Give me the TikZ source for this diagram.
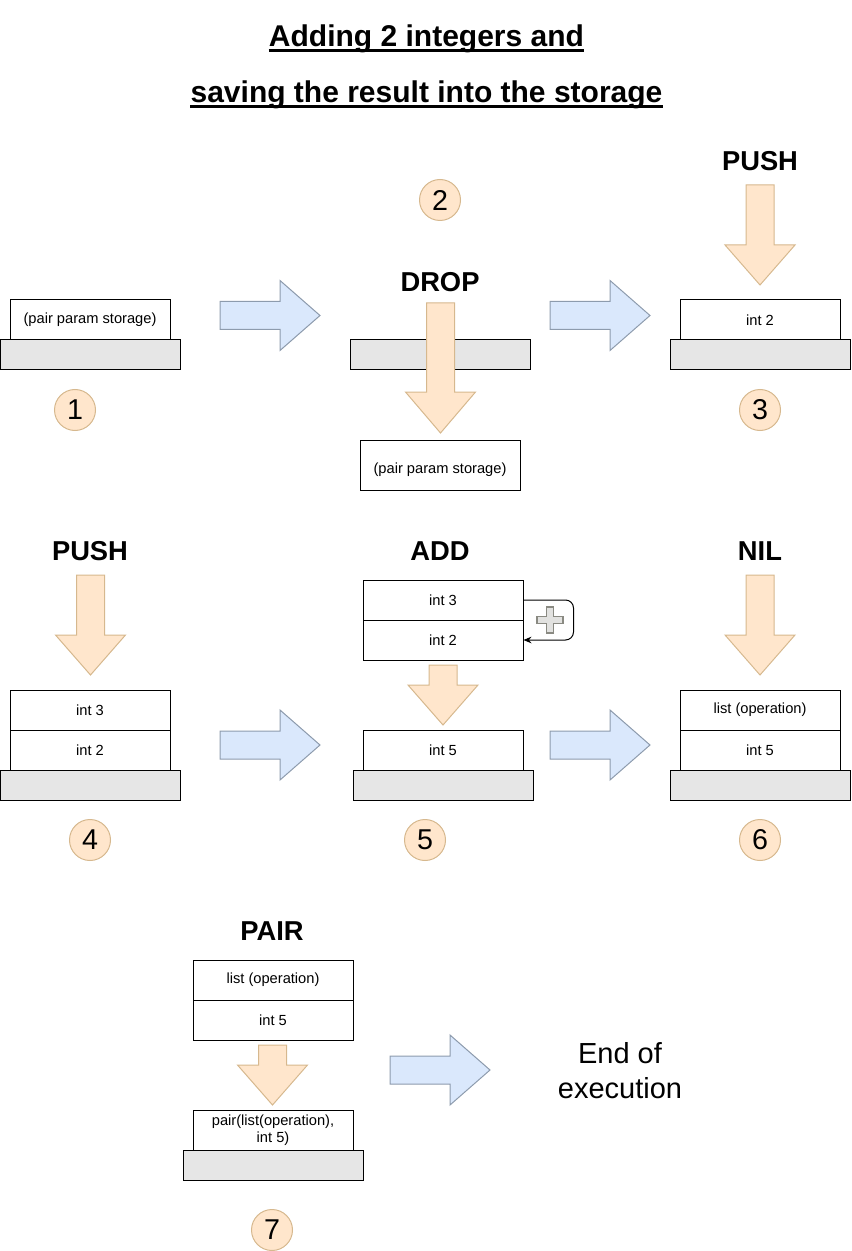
\documentclass[tikz,border=0pt]{standalone}
\usepackage{fontspec}
\setmainfont{Liberation Sans}
\usetikzlibrary{arrows.meta}
\definecolor{ofill}{HTML}{FFE6CC}
\definecolor{oline}{HTML}{D6B88E}
\definecolor{bfill}{HTML}{DAE8FC}
\definecolor{bline}{HTML}{8D9BAD}
\definecolor{basefill}{HTML}{E6E6E6}
\definecolor{plusfill}{HTML}{E2E2E0}
\definecolor{plusline}{HTML}{8A8A82}
\tikzset{
 cell/.style={draw=black, fill=white, line width=0.75pt, minimum width=120pt, minimum height=30pt, inner sep=0pt, font=\fontsize{11pt}{13pt}\selectfont, align=center},
 dropbox/.style={cell, minimum height=37.5pt},
 celltext/.style={inner sep=0pt, font=\fontsize{11pt}{13pt}\selectfont},
 basebar/.style={draw=black, fill=basefill, line width=0.75pt, minimum width=135pt, minimum height=22.5pt, inner sep=0pt},
 opname/.style={font=\fontsize{20.5pt}{24pt}\selectfont\bfseries, inner sep=0pt},
 stepnum/.style={circle, draw=oline, fill=ofill, line width=0.75pt, minimum size=30.75pt, inner sep=0pt, font=\fontsize{21.5pt}{24pt}\selectfont},
 rarrow/.style={draw=bline, fill=bfill, line width=0.75pt},
 darrow/.style={draw=oline, fill=ofill, line width=0.75pt},
 titletext/.style={anchor=base, inner sep=0pt, font=\fontsize{22.5pt}{27pt}\selectfont\bfseries},
 uline/.style={line width=2.25pt},
}
\newcommand\bluearrow[2]{\draw[rarrow] (#1,#2-14) -- (#1+60,#2-14) -- (#1+60,#2-35) -- (#1+100,#2) -- (#1+60,#2+35) -- (#1+60,#2+14) -- (#1,#2+14) -- cycle;}
\newcommand\orangearrow[4]{\draw[darrow] (#1-14,#2) -- (#1+14,#2) -- (#1+14,#3) -- (#1+35,#3) -- (#1,#4) -- (#1-35,#3) -- (#1-14,#3) -- cycle;}
\begin{document}
\begin{tikzpicture}[x=0.75pt,y=-0.75pt]
\useasboundingbox (0,0) rectangle (851,1251);
% title
\node[titletext] (t1) at (426.5,47) {Adding 2 integers and~};
\node[titletext] (t2) at (426.5,103) {saving the result into the storage};
\draw[uline] ([yshift=-3pt]t1.base west) -- ([yshift=-3pt]t1.base east);
\draw[uline] ([yshift=-3pt]t2.base west) -- ([yshift=-3pt]t2.base east);
% panel 1
\node[basebar] (base1) at (90,355) {};
\node[cell] (s1a) at (90,320) {(pair param storage)};
\node[stepnum] (n1) at (75,410) {1};
\bluearrow{220}{315.5}
% panel 2
\node[stepnum] (n2) at (440,200) {2};
\node[opname] (op2) at (440,282) {DROP};
\node[basebar] (base2) at (440,355) {};
\orangearrow{440.5}{303}{392}{433}
\node[dropbox] (s2a) at (440,465) {};
\node[celltext] (s2t) at (440,470) {(pair param storage)};
\bluearrow{550}{315.5}
% panel 3
\node[opname] (op3) at (760,161) {PUSH};
\orangearrow{760}{185}{245}{285}
\node[basebar] (base3) at (760,355) {};
\node[cell] (s3a) at (760,320) {int 2};
\node[stepnum] (n3) at (760,410) {3};
% panel 4
\node[opname] (op4) at (90,551) {PUSH};
\orangearrow{90.5}{575}{635}{675}
\node[basebar] (base4) at (90,785) {};
\node[cell] (s4a) at (90,710) {int 3};
\node[cell] (s4b) at (90,750) {int 2};
\node[stepnum] (n4) at (90,840) {4};
\bluearrow{220}{745}
% panel 5
\node[opname] (op5) at (440,551) {ADD};
\node[cell] (s5a) at (443,600) {int 3};
\node[cell] (s5b) at (443,640) {int 2};
\draw[line width=0.75pt, rounded corners=6pt, -{Stealth[length=6pt,width=5pt]}] (s5a.east) -- ++(50,0) -- ++(0,40) -- (s5b.east);
\draw[draw=plusline, fill=plusfill, line width=0.9pt] (546.5,607) -- (553.5,607) -- (553.5,616.5) -- (563,616.5) -- (563,623.5) -- (553.5,623.5) -- (553.5,633) -- (546.5,633) -- (546.5,623.5) -- (537,623.5) -- (537,616.5) -- (546.5,616.5) -- cycle;
\orangearrow{443}{665}{685}{725}
\node[basebar] (base5) at (443,785) {};
\node[cell] (s5c) at (443,750) {int 5};
\node[stepnum] (n5) at (425,840) {5};
\bluearrow{550}{745}
% panel 6
\node[opname] (op6) at (760,551) {NIL};
\orangearrow{760}{575}{635}{675}
\node[basebar] (base6) at (760,785) {};
\node[cell] (s6a) at (760,710) {list (operation)};
\node[cell] (s6b) at (760,750) {int 5};
\node[stepnum] (n6) at (760,840) {6};
% panel 7
\node[opname] (op7) at (272,931) {PAIR};
\node[cell] (s7a) at (273,980) {list (operation)};
\node[cell] (s7b) at (273,1020) {int 5};
\orangearrow{272.5}{1045}{1065}{1105}
\node[basebar] (base7) at (273,1165) {};
\node[cell] (s7c) at (273,1130) {pair(list(operation),\\ int 5)};
\node[stepnum] (n7) at (272,1230) {7};
\bluearrow{390}{1070}
\node[align=center, inner sep=0pt, font=\fontsize{21.75pt}{26.25pt}\selectfont] (endx) at (620,1071) {End of\\execution};
\end{tikzpicture}
\end{document}
